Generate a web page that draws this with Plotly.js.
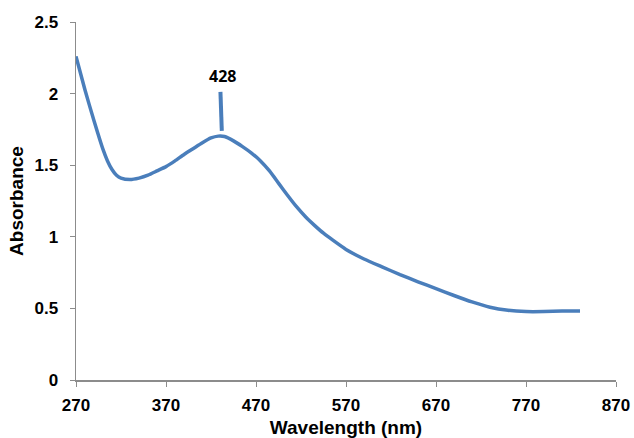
<!DOCTYPE html>
<html>
<head>
<meta charset="utf-8">
<script src="https://cdn.plot.ly/plotly-3.0.1.min.js"></script>
<style>html,body{margin:0;padding:0;background:#fff;}#chart{width:634px;height:438px;}</style>
</head>
<body>
<div id="chart"></div>
<script>
var wavelength = [270, 280, 290, 300, 305, 310, 315, 320, 330, 340, 350, 360, 370, 380, 390, 400, 410, 420, 428, 435, 445, 455, 465, 475, 485, 495, 505, 515, 525, 535, 545, 555, 570, 590, 610, 630, 650, 670, 690, 710, 730, 750, 770, 790, 810, 830];
var absorbance = [2.26, 2.025, 1.81, 1.61, 1.53, 1.47, 1.43, 1.41, 1.40, 1.41, 1.43, 1.46, 1.49, 1.53, 1.575, 1.615, 1.655, 1.69, 1.703, 1.70, 1.67, 1.63, 1.585, 1.53, 1.46, 1.375, 1.29, 1.21, 1.14, 1.08, 1.025, 0.978, 0.912, 0.845, 0.79, 0.736, 0.686, 0.638, 0.59, 0.545, 0.508, 0.487, 0.478, 0.478, 0.481, 0.481];
var peakLabel = "428";
var peakMarkerX = [430.5, 432];
var peakMarkerY = [2.012, 1.74];
var xTicks = [270, 370, 470, 570, 670, 770, 870];
var yTicks = [0, 0.5, 1, 1.5, 2, 2.5];

var blue = "#4A7EBB";
var tickFont = {family: "Liberation Sans, Arial, sans-serif", size: 17, color: "#000", weight: "bold"};
var titleFont = {family: "Liberation Sans, Arial, sans-serif", size: 19, color: "#000", weight: "bold"};

var trace = {
  x: wavelength, y: absorbance, type: "scatter", mode: "lines",
  line: {color: blue, width: 3.5, shape: "spline", smoothing: 0.5},
  hoverinfo: "skip"
};

var layout = {
  width: 634, height: 438,
  margin: {l: 76, r: 18, t: 22, b: 58},
  paper_bgcolor: "#fff", plot_bgcolor: "#fff",
  showlegend: false,
  xaxis: {
    range: [270, 870], tickvals: xTicks, ticktext: xTicks.map(String),
    showgrid: false, zeroline: false, showline: true, linecolor: "#8c8c8c", linewidth: 1.5,
    ticks: "outside", ticklen: 5, tickcolor: "#8c8c8c", tickwidth: 1,
    tickfont: tickFont, ticklabelstandoff: 4,
    title: {text: "Wavelength (nm)", font: titleFont, standoff: 8}
  },
  yaxis: {
    range: [0, 2.5], tickvals: yTicks, ticktext: ["0", "0.5", "1", "1.5", "2", "2.5"],
    showgrid: false, zeroline: false, showline: true, linecolor: "#8c8c8c", linewidth: 1.5,
    ticks: "outside", ticklen: 5, tickcolor: "#8c8c8c", tickwidth: 1,
    tickfont: tickFont, ticklabelstandoff: 8,
    title: {text: "Absorbance", font: titleFont, standoff: 6}
  },
  shapes: [{
    type: "line", xref: "x", yref: "y",
    x0: peakMarkerX[0], x1: peakMarkerX[1], y0: peakMarkerY[0], y1: peakMarkerY[1],
    line: {color: blue, width: 4}
  }],
  annotations: [{
    x: 433, y: 2.12, xref: "x", yref: "y", text: peakLabel, showarrow: false,
    xanchor: "center", yanchor: "middle",
    font: {family: "Open Sans, sans-serif", size: 16, color: "#000", weight: "bold"}
  }]
};

Plotly.newPlot("chart", [trace], layout, {displayModeBar: false, staticPlot: true});
</script>
</body>
</html>
